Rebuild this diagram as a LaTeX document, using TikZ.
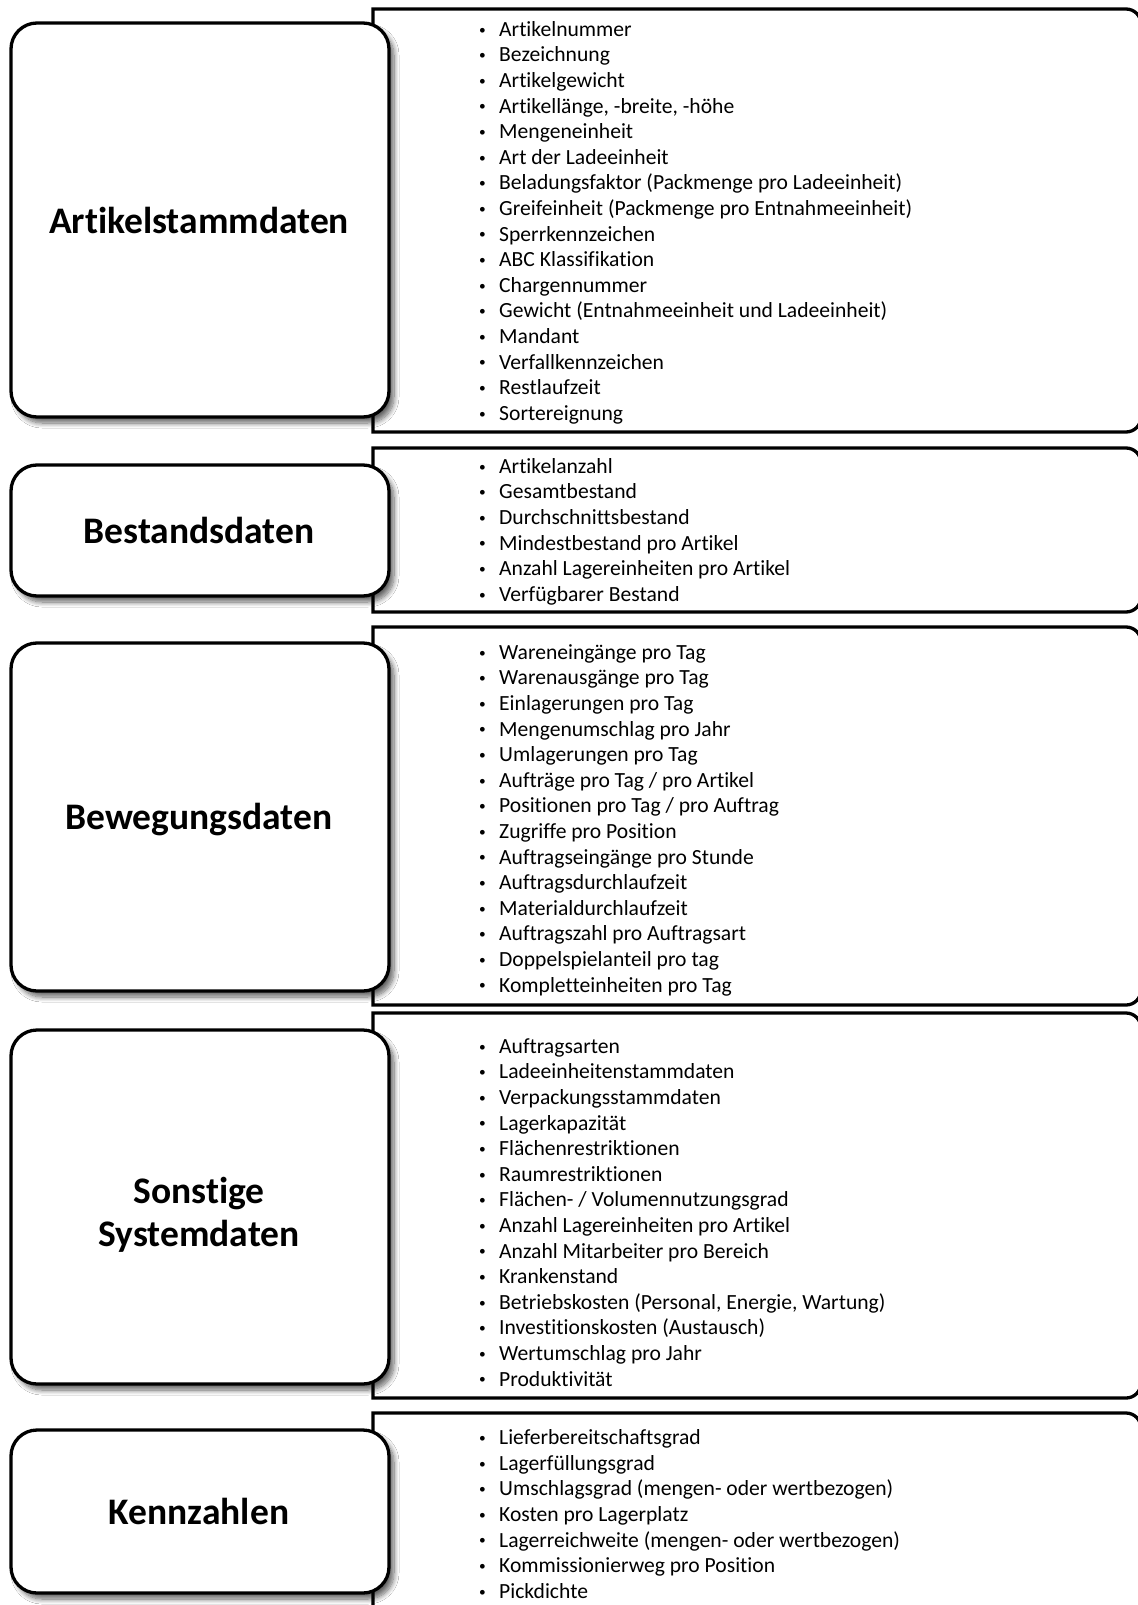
\documentclass[tikz,border=0pt]{standalone}
\usepackage{fontspec}
\setmainfont{Carlito}[Ligatures=NoCommon]
\usetikzlibrary{shadows.blur}

% list frame: square on the left, rounded on the right
\newcommand\listframe[2]{%
  \draw[frame] (373,#2) -- (373,#1) -- (1126,#1)
    arc[start angle=-90, end angle=0, radius=15] -- (1141,#2-15)
    arc[start angle=0, end angle=90, radius=15] -- cycle;}
\newcommand\bl{\makebox[23pt][l]{\hspace{3pt}\raisebox{2.2pt}{\scalebox{0.62}{•}}}}

\begin{document}
\begin{tikzpicture}[x=1pt, y=-1pt,
  frame/.style={line width=3.3pt, draw=black, fill=white},
  titlebox/.style={frame, rounded corners=26pt, minimum width=378pt,
    inner sep=0pt,
    blur shadow={shadow xshift=5pt, shadow yshift=-6pt,
      shadow blur radius=5pt, shadow opacity=60, shadow blur steps=10}},
  titletext/.style={inner sep=0pt, align=center,
    font=\bfseries\fontsize{37.5}{43.5}\selectfont},
  itemlist/.style={anchor=west, inner sep=0pt, align=left,
    font=\fontsize{21.6}{25.6}\selectfont}]
\useasboundingbox (0,0) rectangle (1137,1605);
\fill[white] (0,0) rectangle (1137,1605);

% right-hand frames with the lists
\listframe{9}{432}
\listframe{448}{612}
\listframe{627}{1005}
\listframe{1013}{1398}
\listframe{1413}{1640}

\node[itemlist] (l1) at (476,222.6) {\bl Artikelnummer\\ \bl Bezeichnung\\ \bl Artikelgewicht\\
  \bl Artikellänge, -breite, -höhe\\ \bl Mengeneinheit\\ \bl Art der Ladeeinheit\\
  \bl Beladungsfaktor (Packmenge pro Ladeeinheit)\\ \bl Greifeinheit (Packmenge pro Entnahmeeinheit)\\
  \bl Sperrkennzeichen\\ \bl ABC Klassifikation\\ \bl Chargennummer\\
  \bl Gewicht (Entnahmeeinheit und Ladeeinheit)\\ \bl Mandant\\ \bl Verfallkennzeichen\\
  \bl Restlaufzeit\\ \bl Sortereignung};

\node[itemlist] (l2) at (476,531.6) {\bl Artikelanzahl\\ \bl Gesamtbestand\\ \bl Durchschnittsbestand\\
  \bl Mindestbestand pro Artikel\\ \bl Anzahl Lagereinheiten pro Artikel\\ \bl Verfügbarer Bestand};

\node[itemlist] (l3) at (476,820.2) {\bl Wareneingänge pro Tag\\ \bl Warenausgänge pro Tag\\
  \bl Einlagerungen pro Tag\\ \bl Mengenumschlag pro Jahr\\ \bl Umlagerungen pro Tag\\
  \bl Aufträge pro Tag / pro Artikel\\ \bl Positionen pro Tag / pro Auftrag\\
  \bl Zugriffe pro Position\\ \bl Auftragseingänge pro Stunde\\ \bl Auftragsdurchlaufzeit\\
  \bl Materialdurchlaufzeit\\ \bl Auftragszahl pro Auftragsart\\ \bl Doppelspielanteil pro tag\\
  \bl Kompletteinheiten pro Tag};

\node[itemlist] (l4) at (476,1212.3) {\bl Auftragsarten\\ \bl Ladeeinheitenstammdaten\\
  \bl Verpackungsstammdaten\\ \bl Lagerkapazität\\ \bl Flächenrestriktionen\\
  \bl Raumrestriktionen\\ \bl Flächen- / Volumennutzungsgrad\\ \bl Anzahl Lagereinheiten pro Artikel\\
  \bl Anzahl Mitarbeiter pro Bereich\\ \bl Krankenstand\\ \bl Betriebskosten (Personal, Energie, Wartung)\\
  \bl Investitionskosten (Austausch)\\ \bl Wertumschlag pro Jahr\\ \bl Produktivität};

\node[itemlist] (l5) at (476,1514) {\bl Lieferbereitschaftsgrad\\ \bl Lagerfüllungsgrad\\
  \bl Umschlagsgrad (mengen- oder wertbezogen)\\ \bl Kosten pro Lagerplatz\\
  \bl Lagerreichweite (mengen- oder wertbezogen)\\ \bl Kommissionierweg pro Position\\
  \bl Pickdichte};

% category boxes on the left
\node[titlebox, minimum height=394pt] (t1) at (200,220) {};
\node[titlebox, minimum height=131pt] (t2) at (200,530.5) {};
\node[titlebox, minimum height=348pt] (t3) at (200,817) {};
\node[titlebox, minimum height=354pt] (t4) at (200,1207) {};
\node[titlebox, minimum height=163pt] (t5) at (200,1511.5) {};

\node[titletext] (n1) at ([xshift=-1pt]t1.center) {Artikelstammdaten};
\node[titletext] (n2) at ([xshift=-1pt]t2.center) {Bestandsdaten};
\node[titletext] (n3) at ([xshift=-1pt,yshift=-3pt]t3.center) {Bewegungsdaten};
\node[titletext] (n4) at ([xshift=-1pt,yshift=-8pt]t4.center) {Sonstige\\Systemdaten};
\node[titletext] (n5) at ([xshift=-1pt]t5.center) {Kennzahlen};
\end{tikzpicture}
\end{document}
